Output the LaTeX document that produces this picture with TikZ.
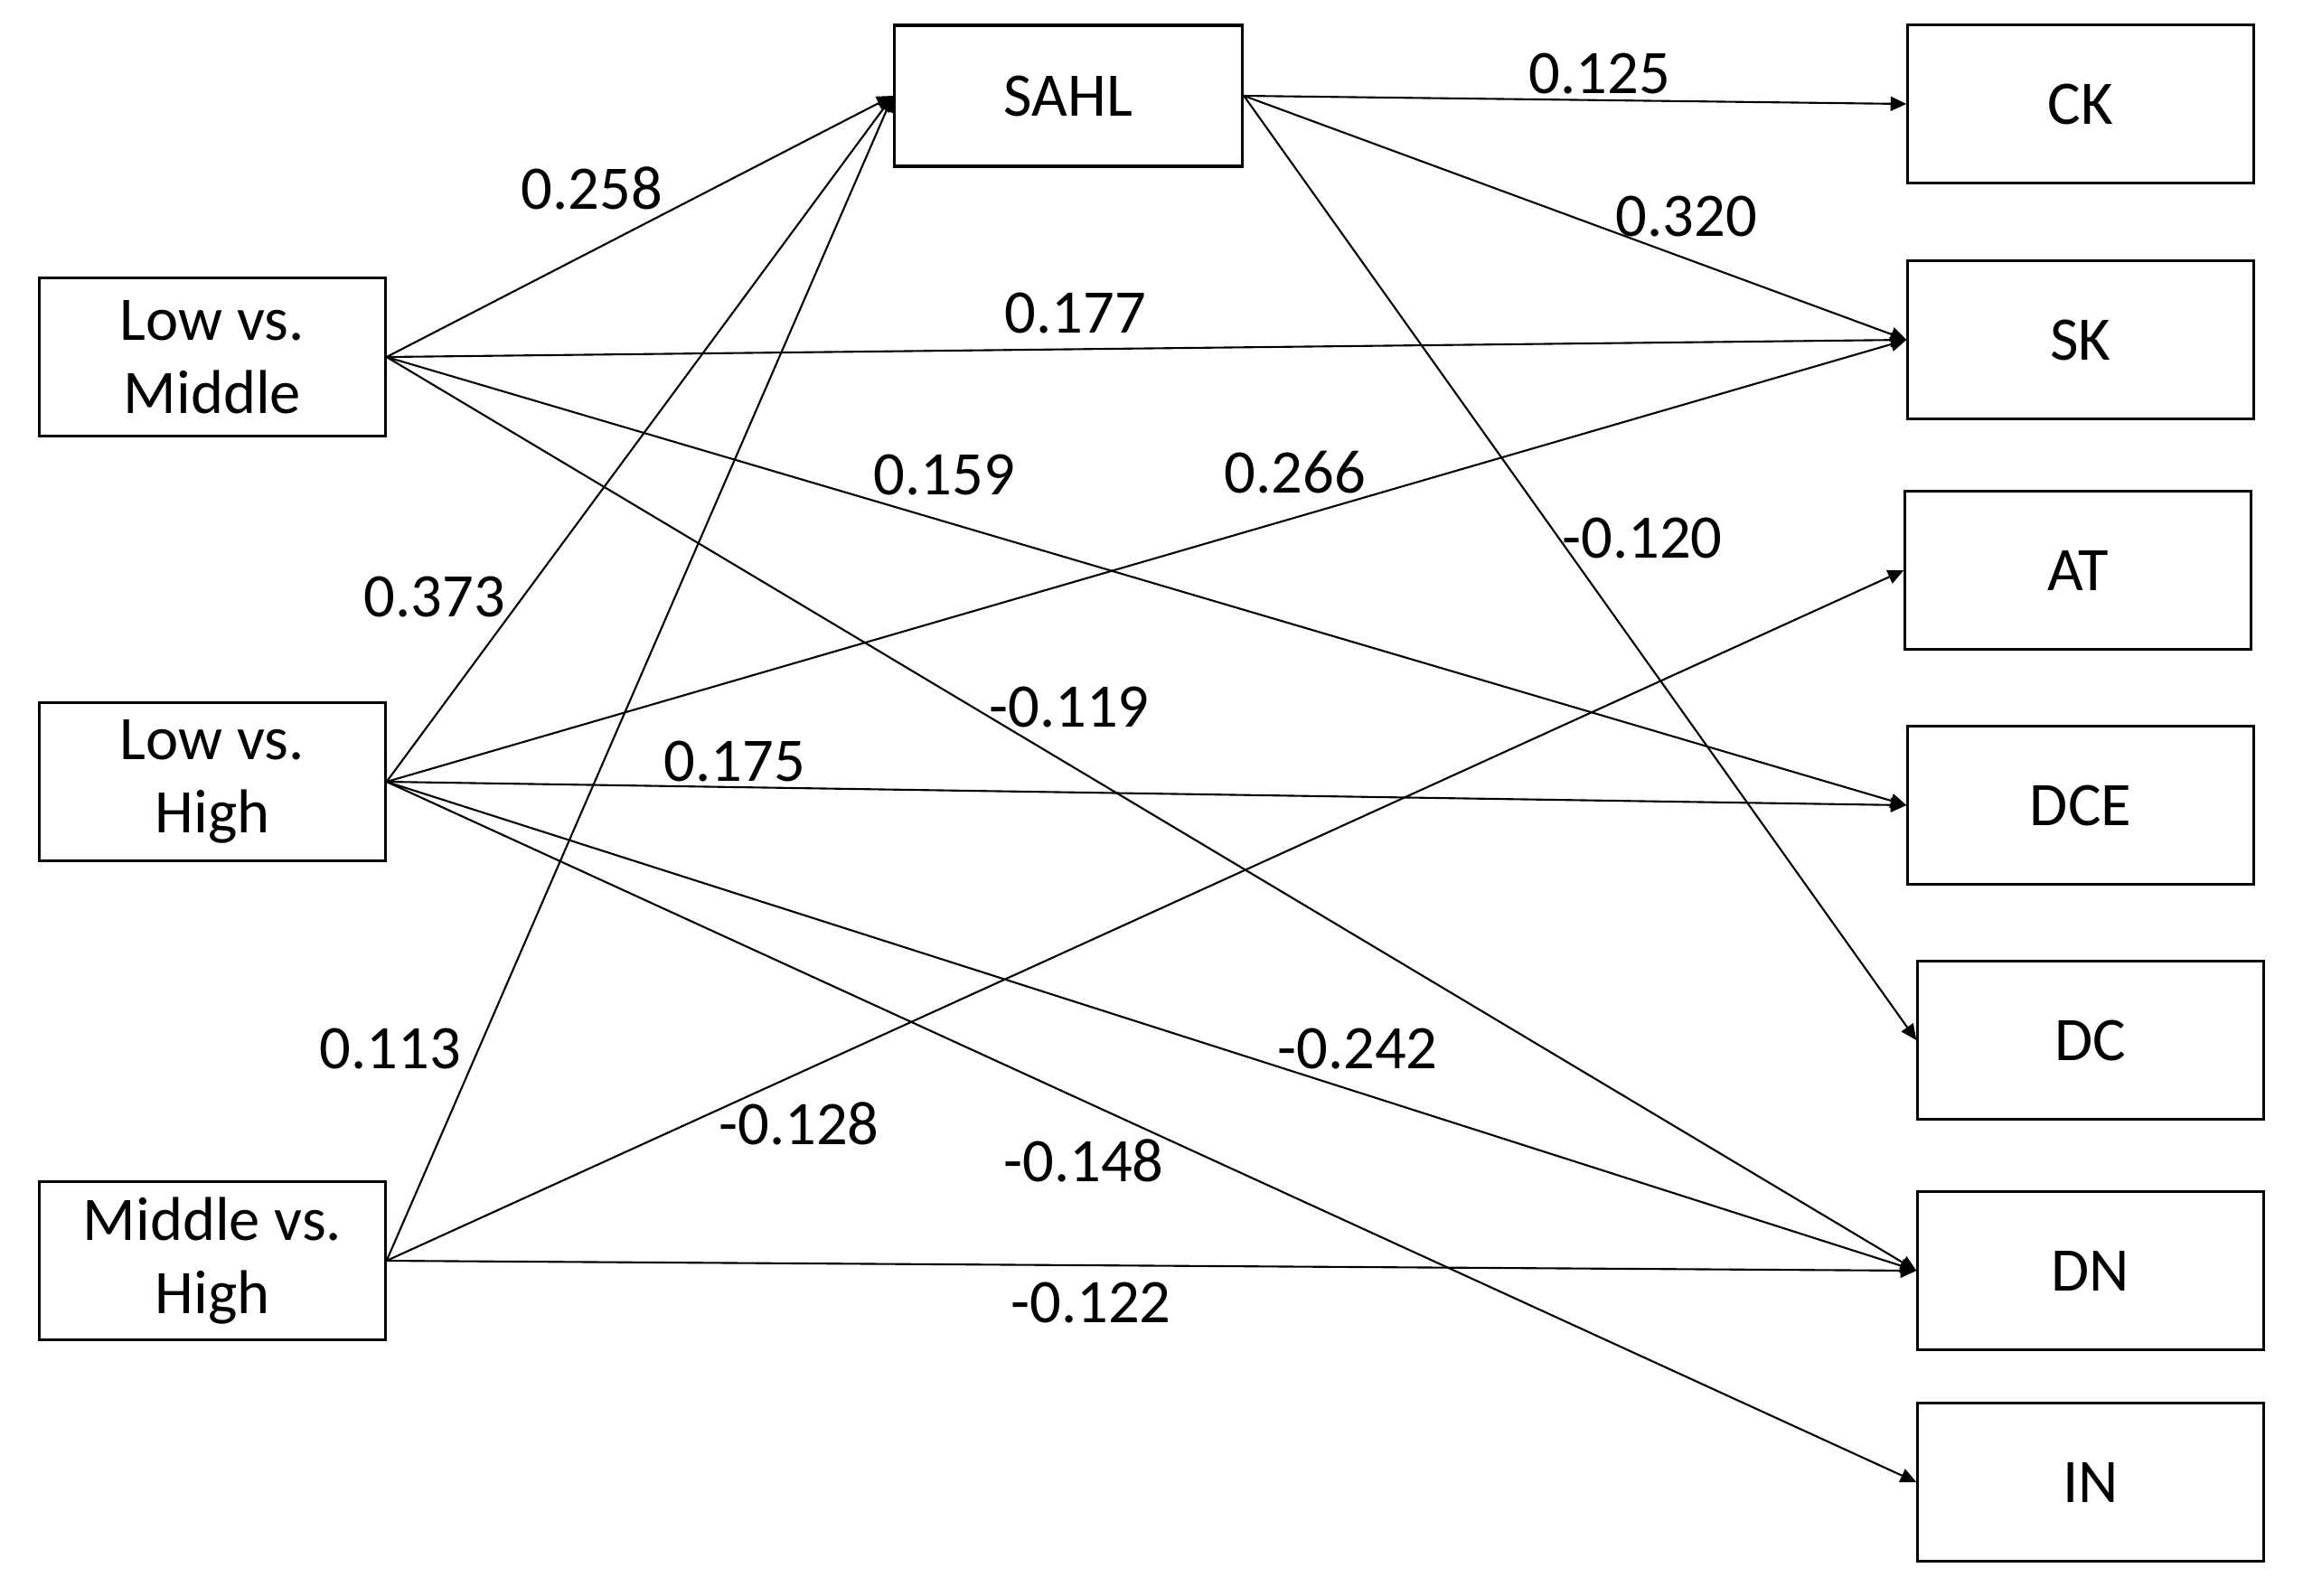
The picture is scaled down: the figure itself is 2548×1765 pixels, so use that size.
\documentclass[tikz,border=0pt]{standalone}
\usepackage{fontspec}
\setmainfont{Carlito}
\usetikzlibrary{arrows.meta}

\begin{document}
\begin{tikzpicture}[
    x=0.01cm, y=-0.01cm,
    font=\fontsize{19.5}{23}\selectfont,
    group/.style={draw, line width=0.9pt, align=center, inner sep=0pt,
        minimum width=3.82cm, minimum height=1.75cm},
    outcome/.style={draw, line width=0.9pt, inner sep=0pt,
        minimum width=3.82cm, minimum height=1.75cm},
    mediator/.style={draw, line width=0.9pt, inner sep=0pt,
        minimum width=3.85cm, minimum height=1.56cm},
    effect/.style={-{Triangle[length=5pt, width=4.5pt]}, line width=0.6pt},
    coef/.style={inner sep=1pt},
]
\useasboundingbox (0,0) rectangle (2548,1765);

% --- income groups (left) ---
\node[group] (lm) at (235,395) {Low vs.\\ Middle};
\node[group] (lh) at (235,865) {Low vs.\\ High};
\node[group] (mh) at (235,1395) {Middle vs.\\ High};

% --- mediator ---
\node[mediator] (sahl) at (1182,106) {SAHL};

% --- outcomes (right) ---
\node[outcome] (ck)  at (2302,115)  {CK};
\node[outcome] (sk)  at (2302,376)  {SK};
\node[outcome] (at)  at (2299,631)  {AT};
\node[outcome] (dce) at (2302,891)  {DCE};
\node[outcome] (dc)  at (2313,1151) {DC};
\node[outcome] (dn)  at (2313,1406) {DN};
\node[outcome] (in)  at (2313,1640) {IN};

% ================= Low vs. Middle =================
\draw[effect] (lm.east) -- (sahl.west) node[coef] (w1) at (655,208) {0.258};
\draw[effect] (lm.east) -- (sk.west)   node[coef] (w2) at (1190,346) {0.177};
\draw[effect] (lm.east) -- (dce.west)  node[coef] (w3) at (1045,525) {0.159};
\draw[effect] (lm.east) -- (dn.west)   node[coef] (w4) at (1183,782) {-0.119};

% ================= Low vs. High =================
\draw[effect] (lh.east) -- (sahl.west) node[coef] (w5) at (481,660) {0.373};
\draw[effect] (lh.east) -- (sk.west)   node[coef] (w6) at (1433,523) {0.266};
\draw[effect] (lh.east) -- (dce.west)  node[coef] (w7) at (813,842) {0.175};
\draw[effect] (lh.east) -- (dn.west)   node[coef] (w8) at (1502,1160) {-0.242};
\draw[effect] (lh.east) -- (in.west)   node[coef] (w9) at (1199,1284) {-0.148};

% ================= Middle vs. High =================
\draw[effect] (mh.east) -- (sahl.west) node[coef] (w10) at (432,1160) {0.113};
\draw[effect] (mh.east) -- (at.west)   node[coef] (w11) at (884,1243) {-0.128};
\draw[effect] (mh.east) -- (dn.west)   node[coef] (w12) at (1207,1441) {-0.122};

% ================= SAHL =================
\draw[effect] (sahl.east) -- (ck.west) node[coef] (w13) at (1770,81) {0.125};
\draw[effect] (sahl.east) -- (sk.west) node[coef] (w14) at (1866,239) {0.320};
\draw[effect] (sahl.east) -- (dc.west) node[coef] (w15) at (1817,595) {-0.120};

\end{tikzpicture}
\end{document}
